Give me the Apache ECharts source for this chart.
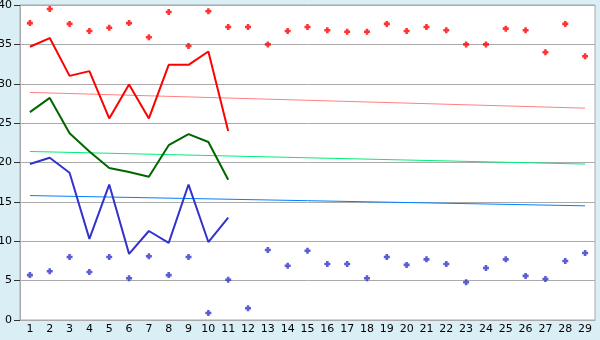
<!DOCTYPE html>
<html><head><meta charset="utf-8">
<script src="https://cdn.jsdelivr.net/npm/echarts@6/dist/echarts.min.js"></script>
<style>html,body{margin:0;padding:0;background:#daeef6;}#c{width:600px;height:340px;}</style>
</head><body><div id="c"></div>
<script>
const categories = ['1','2','3','4','5','6','7','8','9','10','11','12','13','14','15','16','17','18','19','20','21','22','23','24','25','26','27','28','29'];
const yTicks = [0,5,10,15,20,25,30,35,40];
const redLine = [34.7,35.8,31.0,31.6,25.6,29.9,25.6,32.4,32.4,34.1,24.0];
const greenLine = [26.4,28.2,23.7,21.4,19.3,18.8,18.2,22.2,23.6,22.6,17.8];
const blueLine = [19.8,20.6,18.7,10.3,17.2,8.4,11.3,9.8,17.2,9.9,13.0];
const redPoints = [37.7,39.5,37.6,36.7,37.1,37.7,35.9,39.1,34.8,39.2,37.2,37.2,35.0,36.7,37.2,36.8,36.6,36.6,37.6,36.7,37.2,36.8,35.0,35.0,37.0,36.8,34.0,37.6,33.5];
const bluePoints = [5.7,6.2,8.0,6.1,8.0,5.3,8.1,5.7,8.0,0.9,5.1,1.5,8.9,6.9,8.8,7.1,7.1,5.3,8.0,7.0,7.7,7.1,4.8,6.6,7.7,5.6,5.2,7.5,8.5];
const redTrendEnds = [28.9, 26.9];
const greenTrendEnds = [21.4, 19.8];
const blueTrendEnds = [15.8, 14.5];

function trend(ends){ const a = categories.map(()=>null); a[0]=ends[0]; a[a.length-1]=ends[1]; return a; }
const marker = 'path://M2,0H5V2H7V5H5V7H2V5H0V2H2Z';
const chart = echarts.init(document.getElementById('c'));
const font = 'DejaVu Sans';
chart.setOption({
  backgroundColor: '#daeef6',
  animation: false,
  grid: {left: 20, right: 5, top: 5, bottom: 20, containLabel: false, outerBoundsMode: 'none', show: true, backgroundColor: '#ffffff', borderColor: '#aaaaaa', borderWidth: 1},
  xAxis: {type: 'category', data: categories, boundaryGap: true,
    axisLine: {lineStyle: {color: '#aaaaaa'}},
    axisTick: {alignWithLabel: true, length: 6, lineStyle: {color: '#333'}},
    axisLabel: {color: '#000', fontFamily: font, fontSize: 11, margin: 4, interval: 0}},
  yAxis: {type: 'value', min: yTicks[0], max: yTicks[yTicks.length-1], interval: 5,
    axisLine: {show: true, lineStyle: {color: '#aaaaaa'}},
    axisTick: {show: true, length: 6, lineStyle: {color: '#333'}},
    splitLine: {lineStyle: {color: '#aaaaaa'}},
    axisLabel: {color: '#000', fontFamily: font, fontSize: 11, margin: 8}},
  series: [
    {type: 'line', data: trend(redTrendEnds), connectNulls: true, symbol: 'none', lineStyle: {color: '#ff8080', width: 1}},
    {type: 'line', data: trend(greenTrendEnds), connectNulls: true, symbol: 'none', lineStyle: {color: '#00ee77', width: 1}},
    {type: 'line', data: trend(blueTrendEnds), connectNulls: true, symbol: 'none', lineStyle: {color: '#0080ff', width: 1}},
    {type: 'line', data: redLine, symbol: 'none', lineStyle: {color: '#ff0000', width: 2}},
    {type: 'line', data: greenLine, symbol: 'none', lineStyle: {color: '#006600', width: 2}},
    {type: 'line', data: blueLine, symbol: 'none', lineStyle: {color: '#3333cc', width: 2}},
    {type: 'scatter', data: redPoints, symbol: marker, symbolSize: 6, itemStyle: {color: '#ff0000'}},
    {type: 'scatter', data: bluePoints, symbol: marker, symbolSize: 6, itemStyle: {color: '#3333cc'}}
  ]
});
</script></body></html>
